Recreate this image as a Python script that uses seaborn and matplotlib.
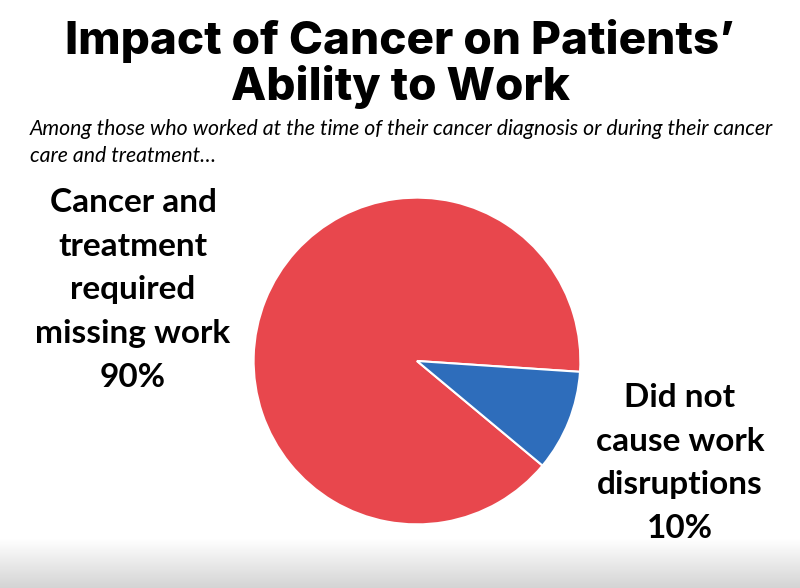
import numpy as np
import matplotlib
matplotlib.use("Agg")
import matplotlib.pyplot as plt
import seaborn as sns

# data
categories = ["Cancer and\ntreatment\nrequired\nmissing work", "Did not\ncause work\ndisruptions"]
shares = [90, 10]
colors = ["#E8474D", "#2E6DBB"]

sns.set_theme(style="white")
plt.rcParams['font.family'] = ['Lato', 'DejaVu Sans']
plt.rcParams['text.color'] = 'black'

W, H = 800, 588
fig = plt.figure(figsize=(8, 5.88), dpi=100)
fig.patch.set_facecolor("white")

# gray gradient band at the bottom
bg = fig.add_axes([0, 0, 1, 50 / H])
grad = np.linspace(0.83, 1.0, 100).reshape(-1, 1)
bg.imshow(grad, cmap="gray", vmin=0, vmax=1, aspect="auto", origin="lower")
bg.axis("off")

# pie
cx, cy, r = 417, 361, 165
ax = fig.add_axes([(cx - r) / W, (H - cy - r) / H, 2 * r / W, 2 * r / H])
ax.pie(shares, colors=colors, startangle=-3.8, counterclock=True,
       wedgeprops=dict(edgecolor="white", linewidth=1.5))
ax.set_xlim(-1.01, 1.01)
ax.set_ylim(-1.01, 1.01)
ax.axis("off")

# title and subtitle
title_font = ["Inter", "DejaVu Sans"]
fig.text(0.5, 1 - 41 / H, "Impact of Cancer on Patients\u2019", ha="center", va="center",
         fontsize=33, fontweight="heavy", family=title_font, color="black")
fig.text(0.5, 1 - 87 / H, "Ability to Work", ha="center", va="center",
         fontsize=33, fontweight="heavy", family=title_font, color="black")
fig.text(30 / W, 1 - 129 / H, "Among those who worked at the time of their cancer diagnosis or during their cancer",
         ha="left", va="center", fontsize=15.3, style="italic", color="black")
fig.text(30 / W, 1 - 156 / H, "care and treatment\u2026",
         ha="left", va="center", fontsize=15.3, style="italic", color="black")

# labels
fig.text(133 / W, 1 - 290 / H, categories[0] + "\n%d%%" % shares[0], ha="center", va="center",
         fontsize=24, fontweight="bold", linespacing=1.62, color="black")
fig.text(680 / W, 1 - 463 / H, categories[1] + "\n%d%%" % shares[1], ha="center", va="center",
         fontsize=24, fontweight="bold", linespacing=1.62, color="black")

fig.savefig("out.png", dpi=100, facecolor="white")
